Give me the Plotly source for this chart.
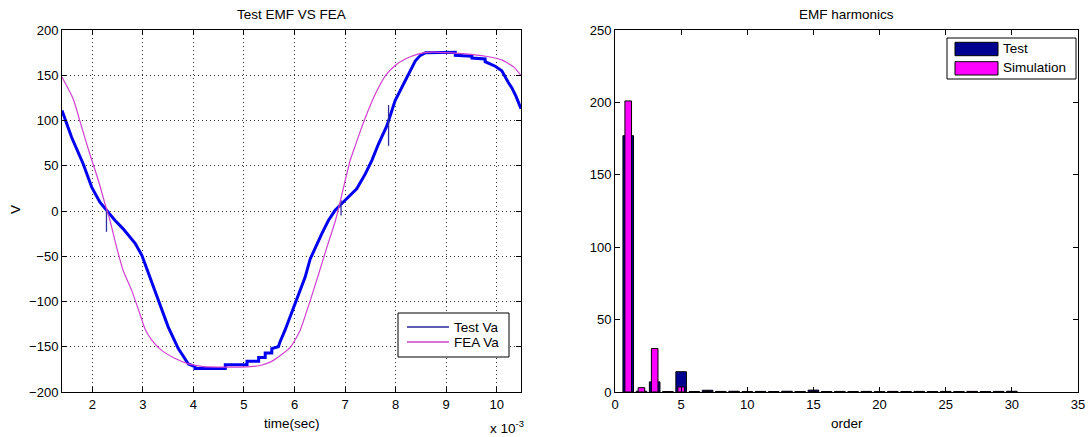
import plotly.graph_objects as go

W, H = 1088, 437

# ---- Measured phase-A back-EMF (time in units of 1e-3 s, volts) ----
test_time = [1.40, 1.59, 1.82, 1.99, 2.15, 2.28, 2.45, 2.61, 2.85, 2.98,
             3.14, 3.31, 3.50, 3.70, 3.90, 4.03, 4.03, 4.63, 4.63, 5.06,
             5.06, 5.29, 5.29, 5.42, 5.42, 5.55, 5.55, 5.68, 5.71, 5.81,
             5.91, 6.01, 6.11, 6.21, 6.31, 6.41, 6.54, 6.67, 6.80, 6.93,
             7.06, 7.23, 7.40, 7.53, 7.66, 7.83, 7.99, 8.13, 8.26, 8.39,
             8.49, 8.59, 9.18, 9.18, 9.51, 9.51, 9.77, 9.77, 9.97, 10.10,
             10.23, 10.30, 10.38, 10.48]
test_va = [111, 81.5, 52, 26, 9.7, 1, -10.5, -19.7, -36, -49,
           -73, -99, -128, -152, -169, -172, -174, -174, -170, -170,
           -166, -166, -162, -162, -157, -157, -152, -150, -145, -132,
           -117, -102.5, -88, -73, -53, -40, -25, -10.5, 0.5, 8,
           15, 24.5, 41, 56, 74, 94.5, 122, 137, 151.6, 166,
           172, 175, 175.5, 172, 171, 169, 168, 165, 160, 155,
           142, 136, 127, 113]

# single-sample glitches in the measured trace
glitch_time = [2.28, 6.92, 7.86]
glitch_low = [-23, -5, 72]
glitch_high = [3, 12, 117]

# ---- FEA phase-A back-EMF ----
fea_time = [1.40, 1.62, 1.79, 1.95, 2.12, 2.25, 2.35, 2.48, 2.61, 2.78,
            2.94, 3.04, 3.18, 3.37, 3.64, 3.90, 4.20, 4.80, 5.12, 5.32,
            5.52, 5.72, 5.92, 6.11, 6.31, 6.48, 6.64, 6.81, 6.94, 7.10,
            7.20, 7.30, 7.40, 7.60, 7.80, 7.99, 8.19, 8.46, 8.72, 8.98,
            9.38, 9.78, 10.11, 10.34, 10.48]
fea_va = [148, 124, 92.6, 63, 33.7, 8, -10.5, -40, -65.7, -88,
          -113.6, -130, -143, -154, -163, -169, -172, -172.5, -172, -170.7,
          -167, -159.7, -150.5, -132, -99, -69, -40, -10.5, 19, 55.8,
          72, 88, 103, 129.5, 149.7, 160.8, 168, 173.7, 175.5, 175,
          173.7, 171, 166.7, 159, 149.7]

# ---- Harmonic spectrum ----
harmonic_order = list(range(1, 31))
test_harm = [177, 0.5, 7, 0.3, 14, 0.3, 1.2, 0.4, 0.5, 0.3,
             0.4, 0.3, 0.5, 0.3, 1.3, 0.3, 0.4, 0.3, 0.4, 0.3,
             0.4, 0.3, 0.4, 0.3, 0.4, 0.3, 0.4, 0.3, 0.4, 0.5]
sim_harm = [201, 3, 30, 0.2, 3.5, 0.1, 0.3, 0.1, 0.2, 0.1,
            0.1, 0.1, 0.1, 0.1, 0.2, 0.1, 0.1, 0.1, 0.1, 0.1,
            0.1, 0.1, 0.1, 0.1, 0.1, 0.1, 0.1, 0.1, 0.1, 0.1]

time_ticks = list(range(2, 11))

FONT = "Liberation Sans, Arial, sans-serif"
NAVY = "#000090"
MAGENTA = "#ff00ff"
BLUE = "#0000f0"
FEA_COLOR = "#d040d0"


def px(x):
    return x / W


def py(y):
    return 1 - y / H


fig = go.Figure()

fig.add_trace(go.Scatter(x=test_time, y=test_va, mode="lines",
                         line=dict(color=BLUE, width=3),
                         xaxis="x", yaxis="y", showlegend=False))
gx, gy = [], []
for t, lo, hi in zip(glitch_time, glitch_low, glitch_high):
    gx += [t, t, None]
    gy += [lo, hi, None]
fig.add_trace(go.Scatter(x=gx, y=gy, mode="lines",
                         line=dict(color="#3030a0", width=1.3),
                         xaxis="x", yaxis="y", showlegend=False))
fig.add_trace(go.Scatter(x=fea_time, y=fea_va, mode="lines",
                         line=dict(color=FEA_COLOR, width=1.2, shape="spline", smoothing=0.5),
                         xaxis="x", yaxis="y", showlegend=False))

fig.add_trace(go.Bar(x=harmonic_order, y=test_harm, width=0.8,
                     marker=dict(color=NAVY, line=dict(color="black", width=1)),
                     xaxis="x2", yaxis="y2", showlegend=False))
fig.add_trace(go.Bar(x=harmonic_order, y=sim_harm, width=0.5,
                     marker=dict(color=MAGENTA, line=dict(color="black", width=1)),
                     xaxis="x2", yaxis="y2", showlegend=False))

axis_common = dict(showline=True, linecolor="black", linewidth=1, mirror="ticks",
                   ticks="inside", ticklen=5, tickcolor="black", zeroline=False,
                   automargin=False,
                   tickfont=dict(family=FONT, size=13, color="black"))

ydom = [py(392), py(30)]

fig.update_layout(
    template="none",
    width=W, height=H,
    margin=dict(l=0, r=0, t=0, b=0, pad=0, autoexpand=False),
    paper_bgcolor="white", plot_bgcolor="white",
    barmode="overlay",
    xaxis=dict(domain=[px(62), px(521)], range=[1.4, 10.48], tickvals=time_ticks,
               showgrid=True, gridcolor="#303030", gridwidth=1, griddash="1px,3px",
               anchor="y", **axis_common),
    yaxis=dict(domain=ydom, range=[-200, 200], dtick=50,
               showgrid=True, gridcolor="#303030", gridwidth=1, griddash="1px,3px",
               anchor="x", **axis_common),
    xaxis2=dict(domain=[px(615), px(1078)], range=[0, 35], dtick=5,
                showgrid=False, anchor="y2", **axis_common),
    yaxis2=dict(domain=ydom, range=[0, 250], dtick=50,
                showgrid=False, anchor="x2", **axis_common),
)

annotations = [
    dict(text="Test EMF VS FEA", x=px(291.5), y=py(14)),
    dict(text="EMF harmonics", x=px(846.5), y=py(14)),
    dict(text="time(sec)", x=px(291.5), y=py(423)),
    dict(text="order", x=px(846.5), y=py(423)),
    dict(text="x 10<sup>-3</sup>", x=px(507), y=py(427)),
    dict(text="V", x=px(15), y=py(210), textangle=-90),
    dict(text="Test Va", x=px(452), y=py(327), xanchor="left"),
    dict(text="FEA Va", x=px(452), y=py(342), xanchor="left"),
    dict(text="Test", x=px(1001), y=py(49), xanchor="left"),
    dict(text="Simulation", x=px(1001), y=py(68), xanchor="left"),
]
for a in annotations:
    a.setdefault("xanchor", "center")
    fig.add_annotation(xref="paper", yref="paper", yanchor="middle", showarrow=False,
                       font=dict(family=FONT, size=13.5, color="black"), **a)

shapes = [
    # line legend
    dict(type="rect", x0=px(398), x1=px(509), y0=py(357), y1=py(313),
         line=dict(color="black", width=1), fillcolor="white"),
    dict(type="line", x0=px(407), x1=px(449), y0=py(327), y1=py(327),
         line=dict(color="#28289a", width=1.3)),
    dict(type="line", x0=px(407), x1=px(449), y0=py(342), y1=py(342),
         line=dict(color=FEA_COLOR, width=1.3)),
    # bar legend
    dict(type="rect", x0=px(947), x1=px(1076), y0=py(79), y1=py(38),
         line=dict(color="black", width=1), fillcolor="white"),
    dict(type="rect", x0=px(955), x1=px(998), y0=py(55.7), y1=py(42.3),
         line=dict(color="black", width=1), fillcolor=NAVY),
    dict(type="rect", x0=px(955), x1=px(998), y0=py(75), y1=py(61.7),
         line=dict(color="black", width=1), fillcolor=MAGENTA),
]
for s in shapes:
    fig.add_shape(xref="paper", yref="paper", layer="above", **s)

fig.write_html("out.html")
